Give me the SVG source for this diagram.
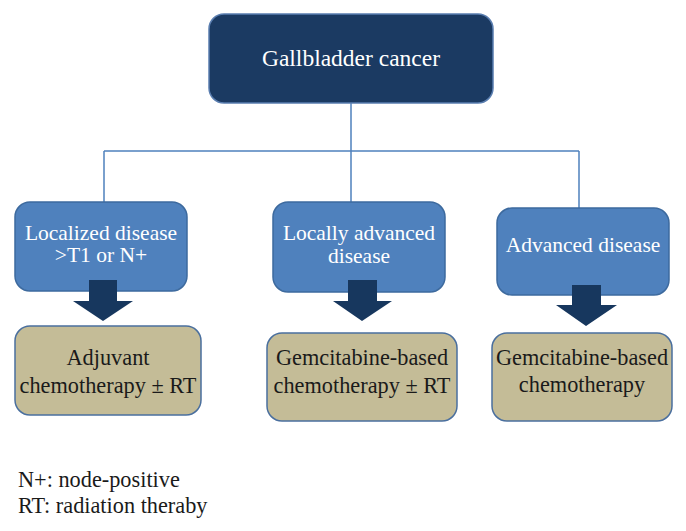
<svg xmlns="http://www.w3.org/2000/svg" width="686" height="531" viewBox="0 0 686 531">
<style>
text{font-family:"Liberation Serif","Times New Roman","DejaVu Serif",serif;font-size:21.5px;text-anchor:middle}
.top{fill:#1b3a62;stroke:#5a7eb0;stroke-width:1.5}
.mid{fill:#4f81bd;stroke:#3d6a9e;stroke-width:1.5}
.bot{fill:#c4bc97;stroke:#4a6f9e;stroke-width:1.5}
.w{fill:#ffffff}
.d{fill:#1a1a1a;font-size:22.3px}
.big{font-size:23.5px}
.arrow{fill:#17375e}
.conn{fill:none;stroke:#4f81bd;stroke-width:1.5}
.legend{text-anchor:start;fill:#1a1a1a;font-size:22.3px}
</style>
<rect width="686" height="531" fill="#ffffff"/>
<g id="connectors">
<path class="conn" d="M351 103 V151 M104 151 H579 M104 151 V202 M351 151 V202 M579 151 V208"/>
</g>
<g id="n-gallbladder">
<rect class="top" x="209" y="14" width="284" height="89" rx="15"/>
<text class="w big" x="351" y="66">Gallbladder cancer</text>
</g>
<g id="n-localized">
<rect class="mid" x="15" y="202" width="172" height="89" rx="15"/>
<text class="w" x="101" y="240">Localized disease</text>
<text class="w" x="101" y="262">&gt;T1 or N+</text>
</g>
<g id="n-locally">
<rect class="mid" x="273" y="202" width="172" height="90" rx="15"/>
<text class="w" x="359" y="240">Locally advanced</text>
<text class="w" x="359" y="263">disease</text>
</g>
<g id="n-advanced">
<rect class="mid" x="497" y="208" width="172" height="87" rx="15"/>
<text class="w" x="583" y="252">Advanced disease</text>
</g>
<g id="arrows">
<polygon class="arrow" points="89,280 117,280 117,301 133,301 103,321 73,301 89,301"/>
<polygon class="arrow" points="348,280 377,280 377,301 392,301 362,321 333,301 348,301"/>
<polygon class="arrow" points="572,285 601,285 601,305 617,305 586,326 556,305 572,305"/>
</g>
<g id="n-adjuvant">
<rect class="bot" x="15" y="326" width="186" height="89" rx="15"/>
<text class="d" x="108" y="365">Adjuvant</text>
<text class="d" x="108" y="393">chemotherapy ± RT</text>
</g>
<g id="n-gem-rt">
<rect class="bot" x="267" y="333" width="190" height="88" rx="15"/>
<text class="d" x="362" y="365">Gemcitabine-based</text>
<text class="d" x="362" y="393">chemotherapy ± RT</text>
</g>
<g id="n-gem">
<rect class="bot" x="492" y="333" width="180" height="88" rx="15"/>
<text class="d" x="582" y="365">Gemcitabine-based</text>
<text class="d" x="582" y="392">chemotherapy</text>
</g>
<g id="legend">
<text class="legend" x="18" y="487">N+: node-positive</text>
<text class="legend" x="18" y="513">RT: radiation theraby</text>
</g>
</svg>
